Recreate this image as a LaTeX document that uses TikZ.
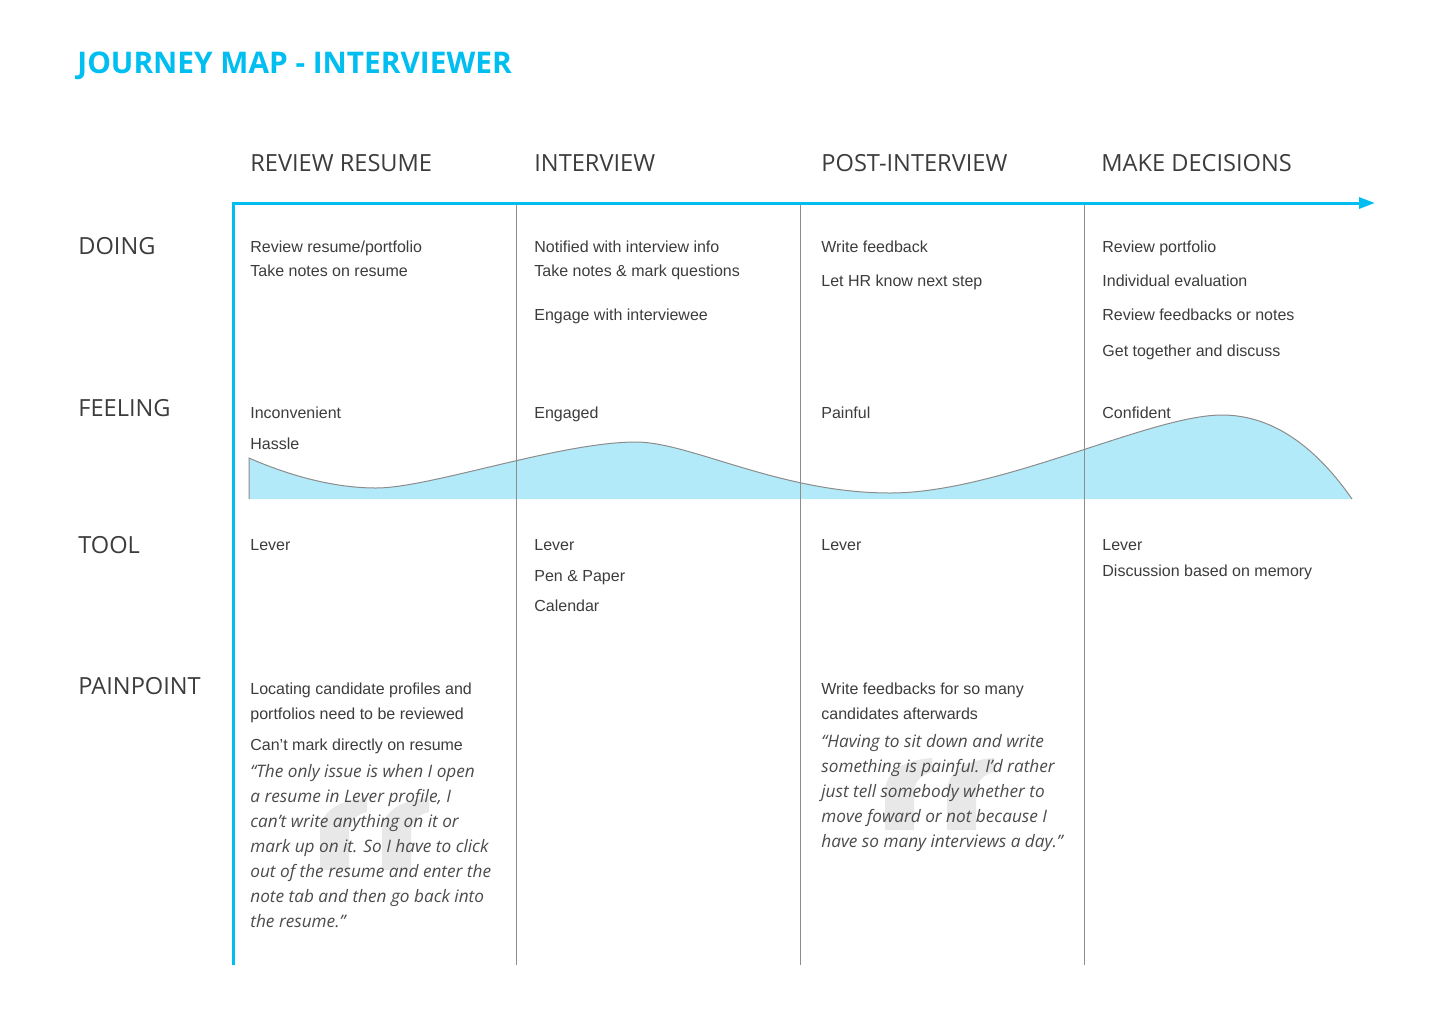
\documentclass[tikz,border=0pt]{standalone}
\usepackage{fontspec}
\setmainfont{Liberation Sans}
\newfontfamily\opensans{Open Sans}
\usetikzlibrary{arrows.meta}

\definecolor{jcyan}{HTML}{00BEF0}
\definecolor{jfill}{HTML}{B3EAFA}
\definecolor{jtext}{HTML}{3C3C3C}
\definecolor{jgrid}{HTML}{8C8C8C}
\definecolor{jquote}{HTML}{E8E8E8}

\tikzset{
  maptitle/.style={anchor=base west, inner sep=0pt, text=jcyan,
    font=\opensans\bfseries\fontsize{14.9}{18}\selectfont},
  stagehead/.style={anchor=base west, inner sep=0pt, text=jtext,
    font=\opensans\fontsize{11.8}{14}\selectfont},
  cell/.style={anchor=base west, inner sep=0pt, text=jtext,
    font=\fontsize{8}{10}\selectfont},
  quoteline/.style={anchor=base west, inner sep=0pt, text=jtext!92,
    font=\opensans\itshape\fontsize{8.6}{10}\selectfont},
  quotemark/.style={fill=jquote},
  divider/.style={draw=jgrid, line width=0.5pt},
  axis/.style={draw=jcyan, line width=1.5pt, line join=miter,
    -{Triangle[length=8pt, width=5.5pt]}},
}

\begin{document}
\begin{tikzpicture}[x=0.5pt, y=-0.5pt]
\useasboundingbox (0, 0) rectangle (1440, 1024);

% title
\node[maptitle] (title) at (77, 73) {JOURNEY MAP - INTERVIEWER};

% stages
\node[stagehead] (review) at (250, 171) {REVIEW RESUME};
\node[stagehead] (interview) at (534, 171) {INTERVIEW};
\node[stagehead] (post) at (821, 171) {POST-INTERVIEW};
\node[stagehead] (decide) at (1101, 171) {MAKE DECISIONS};

% rows
\node[stagehead] (doing) at (78, 254) {DOING};
\node[stagehead] (feeling) at (78, 416) {FEELING};
\node[stagehead] (tool) at (78, 553) {TOOL};
\node[stagehead] (pain) at (78, 694) {PAINPOINT};

% feeling curve
\fill[jfill] (249, 499) -- (249, 458)
  .. controls (290, 476) and (335, 488) .. (376, 488)
  .. controls (430, 488) and (560, 442) .. (636, 442)
  .. controls (690, 442) and (780, 493) .. (890, 493)
  .. controls (1000, 493) and (1150, 415) .. (1222, 415)
  .. controls (1275, 415) and (1318, 450) .. (1352, 499) -- cycle;
\draw[jgrid, line width=0.5pt] (249, 499) -- (249, 458)
  .. controls (290, 476) and (335, 488) .. (376, 488)
  .. controls (430, 488) and (560, 442) .. (636, 442)
  .. controls (690, 442) and (780, 493) .. (890, 493)
  .. controls (1000, 493) and (1150, 415) .. (1222, 415)
  .. controls (1275, 415) and (1318, 450) .. (1352, 499);

% grid
\coordinate (axis foot) at (233, 965);
\coordinate (axis corner) at (233, 203);
\coordinate (axis tip) at (1375, 203);
\foreach \x/\n in {516/a, 800/b, 1084/c} {
  \coordinate (top \n) at (\x, 205);
  \coordinate (foot \n) at (\x, 965);
  \draw[divider] (top \n) -- (foot \n);
}
\draw[axis] (axis foot) -- (axis corner) -- (axis tip);

% doing
\node[cell] (do1a) at (250, 252) {Review resume/portfolio};
\node[cell] (do1b) at (250, 276) {Take notes on resume};
\node[cell] (do2a) at (534, 252) {Notified with interview info};
\node[cell] (do2b) at (534, 276) {Take notes \& mark questions};
\node[cell] (do2c) at (534, 320) {Engage with interviewee};
\node[cell] (do3a) at (821, 252) {Write feedback};
\node[cell] (do3b) at (821, 286) {Let HR know next step};
\node[cell] (do4a) at (1102, 252) {Review portfolio};
\node[cell] (do4b) at (1102, 286) {Individual evaluation};
\node[cell] (do4c) at (1102, 320) {Review feedbacks or notes};
\node[cell] (do4d) at (1102, 356) {Get together and discuss};

% feeling
\node[cell] (fe1a) at (250, 418) {Inconvenient};
\node[cell] (fe1b) at (250, 449) {Hassle};
\node[cell] (fe2a) at (534, 418) {Engaged};
\node[cell] (fe3a) at (821, 418) {Painful};
\node[cell] (fe4a) at (1102, 418) {Confident};

% tool
\node[cell] (to1a) at (250, 550) {Lever};
\node[cell] (to2a) at (534, 550) {Lever};
\node[cell] (to2b) at (534, 581) {Pen \& Paper};
\node[cell] (to2c) at (534, 611) {Calendar};
\node[cell] (to3a) at (821, 550) {Lever};
\node[cell] (to4a) at (1102, 550) {Lever};
\node[cell] (to4b) at (1102, 576) {Discussion based on memory};

% painpoint
\foreach \ox/\oy in {320/870, 382/870, 885/830, 947/830} {
  \fill[quotemark, shift={(\ox, \oy)}] (0, 0) -- (0, -38)
    .. controls (0, -58) and (18, -70) .. (47, -72) -- (47, -58)
    .. controls (37, -56) and (29, -48) .. (29, -38) -- (29, 0) -- cycle;
}
\node[cell] (pa1a) at (250, 694) {Locating candidate profiles and};
\node[cell] (pa1b) at (250, 719) {portfolios need to be reviewed};
\node[cell] (pa1c) at (250, 750) {Can’t mark directly on resume};
\node[quoteline] (qa1) at (250, 777) {“The only issue is when I open};
\node[quoteline] (qa2) at (250, 802) {a resume in Lever profile, I};
\node[quoteline] (qa3) at (250, 827) {can’t write anything on it or};
\node[quoteline] (qa4) at (250, 852) {mark up on it. So I have to click};
\node[quoteline] (qa5) at (250, 877) {out of the resume and enter the};
\node[quoteline] (qa6) at (250, 902) {note tab and then go back into};
\node[quoteline] (qa7) at (250, 927) {the resume.”};
\node[cell] (pa3a) at (821, 694) {Write feedbacks for so many};
\node[cell] (pa3b) at (821, 719) {candidates afterwards};
\node[quoteline] (qb1) at (821, 747) {“Having to sit down and write};
\node[quoteline] (qb2) at (821, 772) {something is painful. I’d rather};
\node[quoteline] (qb3) at (821, 797) {just tell somebody whether to};
\node[quoteline] (qb4) at (821, 822) {move foward or not because I};
\node[quoteline] (qb5) at (821, 847) {have so many interviews a day.”};
\end{tikzpicture}
\end{document}
